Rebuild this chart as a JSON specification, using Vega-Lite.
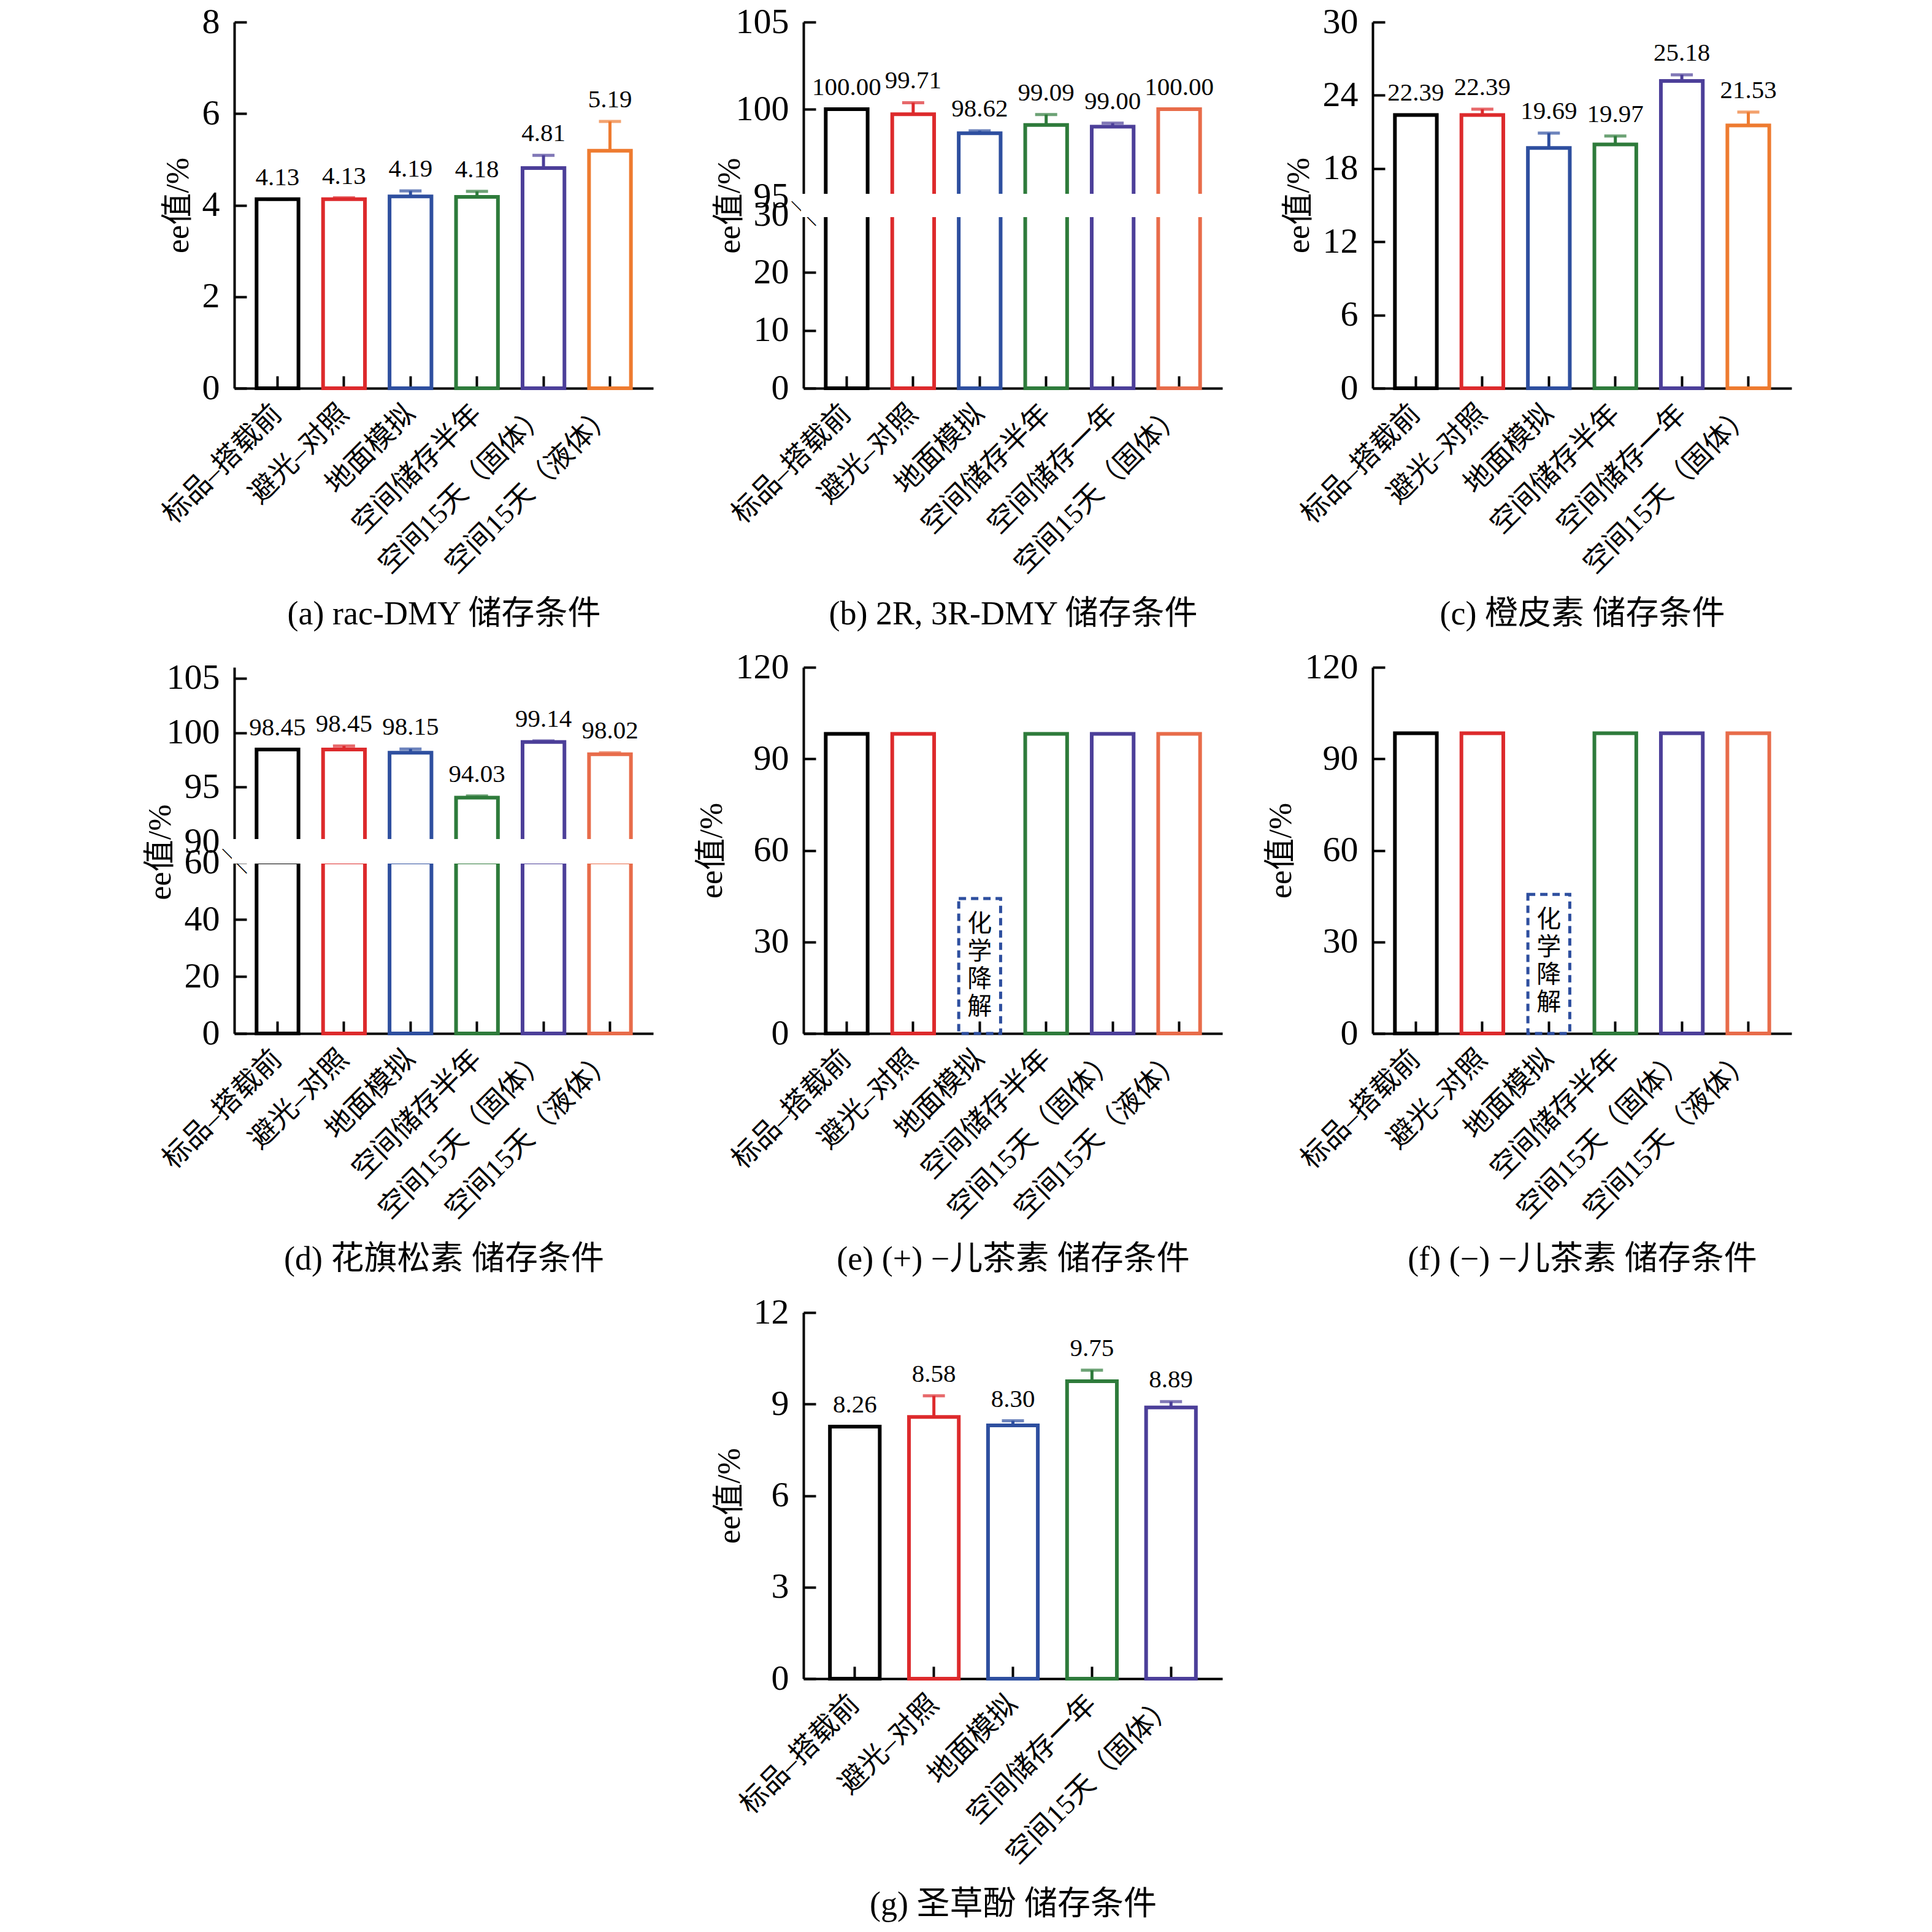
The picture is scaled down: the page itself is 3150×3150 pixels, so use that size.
{
  "$schema": "https://vega.github.io/schema/vega-lite/v6.json",
  "background": "white",
  "padding": {"left": 235, "top": 7, "right": 5, "bottom": 5},
  "datasets": {
    "a": [
      {"c": "标品–搭载前", "v": 4.13, "hi": 4.13},
      {"c": "避光–对照", "v": 4.13, "hi": 4.16},
      {"c": "地面模拟", "v": 4.19, "hi": 4.31},
      {"c": "空间储存半年", "v": 4.18, "hi": 4.30},
      {"c": "空间15天（固体）", "v": 4.81, "hi": 5.09},
      {"c": "空间15天（液体）", "v": 5.19, "hi": 5.83}
    ],
    "b": [
      {"c": "标品–搭载前", "v": 100.00, "hi": 100.00},
      {"c": "避光–对照", "v": 99.71, "hi": 100.37},
      {"c": "地面模拟", "v": 98.62, "hi": 98.76},
      {"c": "空间储存半年", "v": 99.09, "hi": 99.69},
      {"c": "空间储存一年", "v": 99.00, "hi": 99.20},
      {"c": "空间15天（固体）", "v": 100.00, "hi": 100.00}
    ],
    "c": [
      {"c": "标品–搭载前", "v": 22.39, "hi": 22.39},
      {"c": "避光–对照", "v": 22.39, "hi": 22.86},
      {"c": "地面模拟", "v": 19.69, "hi": 20.90},
      {"c": "空间储存半年", "v": 19.97, "hi": 20.67},
      {"c": "空间储存一年", "v": 25.18, "hi": 25.68},
      {"c": "空间15天（固体）", "v": 21.53, "hi": 22.63}
    ],
    "d": [
      {"c": "标品–搭载前", "v": 98.45, "hi": 98.45},
      {"c": "避光–对照", "v": 98.45, "hi": 98.78},
      {"c": "地面模拟", "v": 98.15, "hi": 98.50},
      {"c": "空间储存半年", "v": 94.03, "hi": 94.18},
      {"c": "空间15天（固体）", "v": 99.14, "hi": 99.24},
      {"c": "空间15天（液体）", "v": 98.02, "hi": 98.15}
    ],
    "e": [
      {"c": "标品–搭载前", "v": 98.2},
      {"c": "避光–对照", "v": 98.2},
      {"c": "地面模拟", "box": 44.2},
      {"c": "空间储存半年", "v": 98.2},
      {"c": "空间15天（固体）", "v": 98.2},
      {"c": "空间15天（液体）", "v": 98.2}
    ],
    "f": [
      {"c": "标品–搭载前", "v": 98.4},
      {"c": "避光–对照", "v": 98.4},
      {"c": "地面模拟", "box": 45.6},
      {"c": "空间储存半年", "v": 98.4},
      {"c": "空间15天（固体）", "v": 98.4},
      {"c": "空间15天（液体）", "v": 98.4}
    ],
    "g": [
      {"c": "标品–搭载前", "v": 8.26, "hi": 8.26},
      {"c": "避光–对照", "v": 8.58, "hi": 9.27},
      {"c": "地面模拟", "v": 8.30, "hi": 8.45},
      {"c": "空间储存一年", "v": 9.75, "hi": 10.11},
      {"c": "空间15天（固体）", "v": 8.89, "hi": 9.08}
    ]
  },
  "concat": [
    {
      "width": 683, "height": 597,
      "data": {"name": "a"},
      "encoding": {
        "x": {"field": "c", "type": "nominal", "sort": null, "scale": {"paddingInner": 0.37, "paddingOuter": 0.335}, "title": "(a) rac-DMY 储存条件"},
        "color": {"field": "c", "type": "nominal", "sort": null, "legend": null, "scale": {"range": ["#000000", "#DD2A2C", "#2E4F9F", "#2E7B3B", "#4C3F99", "#EE7B30"]}}
      },
      "layer": [
        {"mark": {"type": "bar", "filled": false, "strokeWidth": 6}, "encoding": {"y": {"field": "v", "type": "quantitative", "scale": {"domain": [0, 8]}, "axis": {"values": [0, 2, 4, 6, 8]}, "title": "ee值/%"}}},
        {"mark": {"type": "rule", "strokeWidth": 5}, "encoding": {"y": {"field": "v", "type": "quantitative", "title": "ee值/%"}, "y2": {"field": "hi"}}},
        {"mark": {"type": "tick", "thickness": 5, "size": 36}, "encoding": {"y": {"field": "hi", "type": "quantitative", "title": "ee值/%"}}},
        {"mark": {"type": "text", "dy": -14, "baseline": "bottom"}, "encoding": {"y": {"field": "hi", "type": "quantitative", "title": "ee值/%"}, "text": {"field": "v", "type": "quantitative", "format": ".2f"}, "color": {"value": "#000000"}}}
      ]
    },
    {
      "width": 683, "height": 597,
      "data": {"name": "b"},
      "layer": [
        {
          "mark": {"type": "bar", "filled": false, "strokeWidth": 6},
          "encoding": {
            "x": {"field": "c", "type": "nominal", "sort": null, "scale": {"paddingInner": 0.37, "paddingOuter": 0.335}, "title": "(b) 2R, 3R-DMY 储存条件"},
            "y": {"field": "v", "type": "quantitative", "scale": {"domain": [0, 30], "range": [597, 314], "clamp": true},
                  "axis": {"orient": "left", "values": [0, 10, 20, 30, 30.32], "titleY": 299,
                           "labelExpr": "datum.value > 30.1 ? '╲' : datum.label",
                           "tickSize": {"condition": {"test": "datum.value > 30.1", "value": 0}, "value": -20},
                           "labelPadding": {"condition": {"test": "datum.value > 30.1", "value": 0}, "value": 44},
                           "labelFont": {"condition": {"test": "datum.value > 30.1", "value": "Noto Sans CJK SC"}, "value": "Liberation Serif"},
                           "labelFontSize": {"condition": {"test": "datum.value > 30.1", "value": 40}, "value": 58},
                           "labelFontWeight": {"condition": {"test": "datum.value > 30.1", "value": "bold"}, "value": "normal"},
                           "labelAlign": {"condition": {"test": "datum.value > 30.1", "value": "center"}, "value": "right"}},
                  "title": "ee值/%"},
            "color": {"field": "c", "type": "nominal", "sort": null, "legend": null, "scale": {"range": ["#000000", "#DD2A2C", "#2E4F9F", "#2E7B3B", "#4C3F99", "#E86C4A"]}}
          }
        },
        {
          "encoding": {
            "x": {"field": "c", "type": "nominal", "sort": null, "scale": {"paddingInner": 0.37, "paddingOuter": 0.335}, "title": "(b) 2R, 3R-DMY 储存条件"},
            "color": {"field": "c", "type": "nominal", "sort": null, "legend": null, "scale": {"range": ["#000000", "#DD2A2C", "#2E4F9F", "#2E7B3B", "#4C3F99", "#E86C4A"]}}
          },
          "layer": [
            {"mark": {"type": "bar", "filled": false, "strokeWidth": 6},
             "encoding": {"y": {"field": "v", "type": "quantitative", "scale": {"domain": [95, 105], "range": [284, 0]},
                                "axis": {"orient": "left", "values": [94.86, 95, 100, 105],
                                         "labelExpr": "datum.value < 94.9 ? '╲' : datum.label",
                                         "tickSize": {"condition": {"test": "datum.value < 94.9", "value": 0}, "value": -20},
                                         "labelPadding": {"condition": {"test": "datum.value < 94.9", "value": 0}, "value": 44},
                                         "labelFont": {"condition": {"test": "datum.value < 94.9", "value": "Noto Sans CJK SC"}, "value": "Liberation Serif"},
                                         "labelFontSize": {"condition": {"test": "datum.value < 94.9", "value": 40}, "value": 58},
                                         "labelFontWeight": {"condition": {"test": "datum.value < 94.9", "value": "bold"}, "value": "normal"},
                                         "labelAlign": {"condition": {"test": "datum.value < 94.9", "value": "center"}, "value": "right"}},
                                "title": null},
                          "y2": {"datum": 95}}},
            {"mark": {"type": "rule", "strokeWidth": 5}, "encoding": {"y": {"field": "v", "type": "quantitative", "title": null}, "y2": {"field": "hi"}}},
            {"mark": {"type": "tick", "thickness": 5, "size": 36}, "encoding": {"y": {"field": "hi", "type": "quantitative", "title": null}}},
            {"mark": {"type": "text", "dy": -14, "baseline": "bottom"}, "encoding": {"y": {"field": "hi", "type": "quantitative", "title": null}, "text": {"field": "v", "type": "quantitative", "format": ".2f"}, "color": {"value": "#000000"}}},
            {"mark": {"type": "rect", "fill": "white", "stroke": "white", "strokeWidth": 8}, "encoding": {"x": null, "color": null, "y": {"datum": 95, "type": "quantitative"}, "y2": {"datum": 93.94}}}
          ]
        }
      ],
      "resolve": {"scale": {"y": "independent"}, "axis": {"y": "independent"}}
    },
    {
      "width": 683, "height": 597,
      "data": {"name": "c"},
      "encoding": {
        "x": {"field": "c", "type": "nominal", "sort": null, "scale": {"paddingInner": 0.37, "paddingOuter": 0.335}, "title": "(c) 橙皮素 储存条件"},
        "color": {"field": "c", "type": "nominal", "sort": null, "legend": null, "scale": {"range": ["#000000", "#DD2A2C", "#2E4F9F", "#2E7B3B", "#4C3F99", "#EE7B30"]}}
      },
      "layer": [
        {"mark": {"type": "bar", "filled": false, "strokeWidth": 6}, "encoding": {"y": {"field": "v", "type": "quantitative", "scale": {"domain": [0, 30]}, "axis": {"values": [0, 6, 12, 18, 24, 30]}, "title": "ee值/%"}}},
        {"mark": {"type": "rule", "strokeWidth": 5}, "encoding": {"y": {"field": "v", "type": "quantitative", "title": "ee值/%"}, "y2": {"field": "hi"}}},
        {"mark": {"type": "tick", "thickness": 5, "size": 36}, "encoding": {"y": {"field": "hi", "type": "quantitative", "title": "ee值/%"}}},
        {"mark": {"type": "text", "dy": -14, "baseline": "bottom"}, "encoding": {"y": {"field": "hi", "type": "quantitative", "title": "ee值/%"}, "text": {"field": "v", "type": "quantitative", "format": ".2f"}, "color": {"value": "#000000"}}}
      ]
    },
    {
      "width": 683, "height": 597,
      "data": {"name": "d"},
      "layer": [
        {
          "mark": {"type": "bar", "filled": false, "strokeWidth": 6},
          "encoding": {
            "x": {"field": "c", "type": "nominal", "sort": null, "scale": {"paddingInner": 0.37, "paddingOuter": 0.335}, "title": "(d) 花旗松素 储存条件"},
            "y": {"field": "v", "type": "quantitative", "scale": {"domain": [0, 60], "range": [597, 318], "clamp": true},
                  "axis": {"orient": "left", "values": [0, 20, 40, 60, 62.15], "titleY": 301,
                           "labelExpr": "datum.value > 60.1 ? '╲' : datum.label",
                           "tickSize": {"condition": {"test": "datum.value > 60.1", "value": 0}, "value": -20},
                           "labelPadding": {"condition": {"test": "datum.value > 60.1", "value": 0}, "value": 44},
                           "labelFont": {"condition": {"test": "datum.value > 60.1", "value": "Noto Sans CJK SC"}, "value": "Liberation Serif"},
                           "labelFontSize": {"condition": {"test": "datum.value > 60.1", "value": 40}, "value": 58},
                           "labelFontWeight": {"condition": {"test": "datum.value > 60.1", "value": "bold"}, "value": "normal"},
                           "labelAlign": {"condition": {"test": "datum.value > 60.1", "value": "center"}, "value": "right"}},
                  "title": "ee值/%"},
            "color": {"field": "c", "type": "nominal", "sort": null, "legend": null, "scale": {"range": ["#000000", "#DD2A2C", "#2E4F9F", "#2E7B3B", "#4C3F99", "#E86C4A"]}}
          }
        },
        {
          "encoding": {
            "x": {"field": "c", "type": "nominal", "sort": null, "scale": {"paddingInner": 0.37, "paddingOuter": 0.335}, "title": "(d) 花旗松素 储存条件"},
            "color": {"field": "c", "type": "nominal", "sort": null, "legend": null, "scale": {"range": ["#000000", "#DD2A2C", "#2E4F9F", "#2E7B3B", "#4C3F99", "#E86C4A"]}}
          },
          "layer": [
            {"mark": {"type": "bar", "filled": false, "strokeWidth": 6},
             "encoding": {"y": {"field": "v", "type": "quantitative", "scale": {"domain": [90, 105], "range": [284, 0]},
                                "axis": {"orient": "left", "values": [89.63, 90, 95, 100, 105],
                                         "labelExpr": "datum.value < 89.9 ? '╲' : datum.label",
                                         "tickSize": {"condition": {"test": "datum.value < 89.9", "value": 0}, "value": -20},
                                         "labelPadding": {"condition": {"test": "datum.value < 89.9", "value": 0}, "value": 44},
                                         "labelFont": {"condition": {"test": "datum.value < 89.9", "value": "Noto Sans CJK SC"}, "value": "Liberation Serif"},
                                         "labelFontSize": {"condition": {"test": "datum.value < 89.9", "value": 40}, "value": 58},
                                         "labelFontWeight": {"condition": {"test": "datum.value < 89.9", "value": "bold"}, "value": "normal"},
                                         "labelAlign": {"condition": {"test": "datum.value < 89.9", "value": "center"}, "value": "right"}},
                                "title": null},
                          "y2": {"datum": 90}}},
            {"mark": {"type": "rule", "strokeWidth": 5}, "encoding": {"y": {"field": "v", "type": "quantitative", "title": null}, "y2": {"field": "hi"}}},
            {"mark": {"type": "tick", "thickness": 5, "size": 36}, "encoding": {"y": {"field": "hi", "type": "quantitative", "title": null}}},
            {"mark": {"type": "text", "dy": -14, "baseline": "bottom"}, "encoding": {"y": {"field": "hi", "type": "quantitative", "title": null}, "text": {"field": "v", "type": "quantitative", "format": ".2f"}, "color": {"value": "#000000"}}},
            {"mark": {"type": "rect", "fill": "white", "stroke": "white", "strokeWidth": 8}, "encoding": {"x": null, "color": null, "y": {"datum": 90, "type": "quantitative"}, "y2": {"datum": 88.2}}}
          ]
        }
      ],
      "resolve": {"scale": {"y": "independent"}, "axis": {"y": "independent"}}
    },
    {
      "width": 683, "height": 597,
      "data": {"name": "e"},
      "encoding": {
        "x": {"field": "c", "type": "nominal", "scale": {"domain": ["标品–搭载前", "避光–对照", "地面模拟", "空间储存半年", "空间15天（固体）", "空间15天（液体）"], "paddingInner": 0.37, "paddingOuter": 0.335}, "title": "(e) (+) −儿茶素 储存条件"},
        "color": {"field": "c", "type": "nominal", "legend": null, "scale": {"domain": ["标品–搭载前", "避光–对照", "地面模拟", "空间储存半年", "空间15天（固体）", "空间15天（液体）"], "range": ["#000000", "#DD2A2C", "#2E4F9F", "#2E7B3B", "#4C3F99", "#E86C4A"]}}
      },
      "layer": [
        {"transform": [{"filter": "datum.v != null"}], "mark": {"type": "bar", "filled": false, "strokeWidth": 6}, "encoding": {"y": {"field": "v", "type": "quantitative", "scale": {"domain": [0, 120]}, "axis": {"values": [0, 30, 60, 90, 120]}, "title": "ee值/%"}}},
        {"transform": [{"filter": "datum.box != null"}], "mark": {"type": "bar", "filled": false, "strokeWidth": 5, "strokeDash": [12, 8]}, "encoding": {"y": {"field": "box", "type": "quantitative", "title": "ee值/%"}}},
        {"transform": [{"filter": "datum.box != null"}], "mark": {"type": "text", "baseline": "top", "dy": 22, "font": "Noto Sans CJK SC", "fontSize": 40, "lineHeight": 45, "lineBreak": "\n"}, "encoding": {"y": {"field": "box", "type": "quantitative", "title": "ee值/%"}, "text": {"value": "化\n学\n降\n解"}, "color": {"value": "#000000"}}}
      ]
    },
    {
      "width": 683, "height": 597,
      "data": {"name": "f"},
      "encoding": {
        "x": {"field": "c", "type": "nominal", "scale": {"domain": ["标品–搭载前", "避光–对照", "地面模拟", "空间储存半年", "空间15天（固体）", "空间15天（液体）"], "paddingInner": 0.37, "paddingOuter": 0.335}, "title": "(f) (−) −儿茶素 储存条件"},
        "color": {"field": "c", "type": "nominal", "legend": null, "scale": {"domain": ["标品–搭载前", "避光–对照", "地面模拟", "空间储存半年", "空间15天（固体）", "空间15天（液体）"], "range": ["#000000", "#DD2A2C", "#2E4F9F", "#2E7B3B", "#4C3F99", "#E86C4A"]}}
      },
      "layer": [
        {"transform": [{"filter": "datum.v != null"}], "mark": {"type": "bar", "filled": false, "strokeWidth": 6}, "encoding": {"y": {"field": "v", "type": "quantitative", "scale": {"domain": [0, 120]}, "axis": {"values": [0, 30, 60, 90, 120]}, "title": "ee值/%"}}},
        {"transform": [{"filter": "datum.box != null"}], "mark": {"type": "bar", "filled": false, "strokeWidth": 5, "strokeDash": [12, 8]}, "encoding": {"y": {"field": "box", "type": "quantitative", "title": "ee值/%"}}},
        {"transform": [{"filter": "datum.box != null"}], "mark": {"type": "text", "baseline": "top", "dy": 22, "font": "Noto Sans CJK SC", "fontSize": 40, "lineHeight": 45, "lineBreak": "\n"}, "encoding": {"y": {"field": "box", "type": "quantitative", "title": "ee值/%"}, "text": {"value": "化\n学\n降\n解"}, "color": {"value": "#000000"}}}
      ]
    },
    {
      "width": 683, "height": 597,
      "data": {"values": [{}]},
      "mark": {"type": "point", "opacity": 0}
    },
    {
      "width": 683, "height": 597,
      "data": {"name": "g"},
      "encoding": {
        "x": {"field": "c", "type": "nominal", "sort": null, "scale": {"paddingInner": 0.37, "paddingOuter": 0.335}, "title": "(g) 圣草酚 储存条件"},
        "color": {"field": "c", "type": "nominal", "sort": null, "legend": null, "scale": {"range": ["#000000", "#DD2A2C", "#2E4F9F", "#2E7B3B", "#4C3F99"]}}
      },
      "layer": [
        {"mark": {"type": "bar", "filled": false, "strokeWidth": 6}, "encoding": {"y": {"field": "v", "type": "quantitative", "scale": {"domain": [0, 12]}, "axis": {"values": [0, 3, 6, 9, 12]}, "title": "ee值/%"}}},
        {"mark": {"type": "rule", "strokeWidth": 5}, "encoding": {"y": {"field": "v", "type": "quantitative", "title": "ee值/%"}, "y2": {"field": "hi"}}},
        {"mark": {"type": "tick", "thickness": 5, "size": 36}, "encoding": {"y": {"field": "hi", "type": "quantitative", "title": "ee值/%"}}},
        {"mark": {"type": "text", "dy": -14, "baseline": "bottom"}, "encoding": {"y": {"field": "hi", "type": "quantitative", "title": "ee值/%"}, "text": {"field": "v", "type": "quantitative", "format": ".2f"}, "color": {"value": "#000000"}}}
      ]
    }
  ],
  "columns": 3,
  "spacing": {"column": 245, "row": 455},
  "bounds": "flush",
  "resolve": {"scale": {"x": "independent", "y": "independent", "color": "independent"}},
  "config": {
    "view": {"stroke": null},
    "font": "Liberation Serif, Noto Sans CJK SC",
    "axis": {
      "grid": false, "zindex": 1, "domainColor": "#000000", "domainWidth": 4, "tickColor": "#000000", "tickWidth": 4, "tickSize": -20,
      "labelColor": "#000000", "labelFont": "Liberation Serif, Noto Sans CJK SC", "labelOverlap": false,
      "titleFont": "Liberation Serif, Noto Sans CJK SC", "titleColor": "#000000", "titleFontWeight": "normal"
    },
    "axisY": {"labelFontSize": 58, "labelPadding": 44, "titleFontSize": 52, "titlePadding": 12, "format": "d"},
    "axisX": {"labelFontSize": 46, "labelAngle": -45, "labelAlign": "right", "labelBaseline": "middle", "labelPadding": 54, "labelLimit": 2000, "titleFontSize": 54, "titleY": 368, "titleBaseline": "middle"},
    "text": {"font": "Liberation Serif", "fontSize": 41, "color": "#000000"}
  }
}
